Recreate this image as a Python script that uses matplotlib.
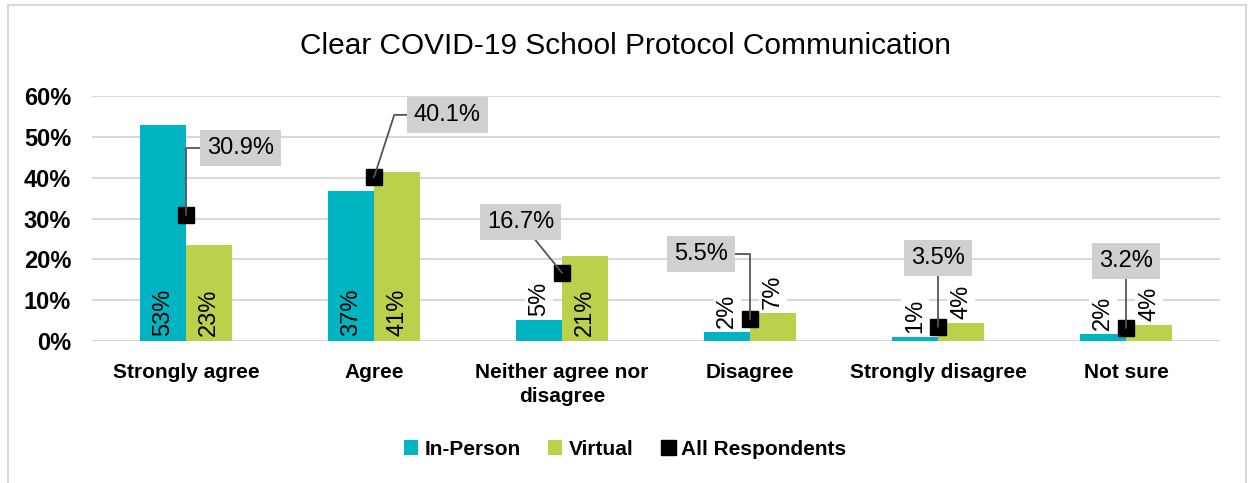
import numpy as np
import matplotlib.pyplot as plt
from matplotlib.patches import Rectangle

plt.rcParams['font.family'] = ['Liberation Sans', 'DejaVu Sans']

categories = ["Strongly agree", "Agree", "Neither agree nor\ndisagree",
              "Disagree", "Strongly disagree", "Not sure"]
in_person = [52.9, 36.8, 5.1, 2.1, 1.0, 1.7]
virtual = [23.4, 41.4, 20.8, 6.8, 4.4, 3.9]
all_resp = [30.9, 40.1, 16.7, 5.5, 3.5, 3.2]

# callout box placement (category offset, height in %) and leader style
callout_pos = [(0.29, 47.3), (1.39, 55.4), (1.78, 29.2),
               (2.74, 21.3), (4.0, 20.3), (5.0, 19.6)]
callout_conn = ["angle,angleA=0,angleB=90,rad=0",
                "angle,angleA=0,angleB=72,rad=0",
                "arc3,rad=0",
                "angle,angleA=0,angleB=90,rad=0",
                "arc3,rad=0",
                "arc3,rad=0"]

teal = "#00B5C1"
green = "#BBD14C"

fig = plt.figure(figsize=(12.5, 4.83), dpi=100)
ax = fig.add_axes([0.0736, 0.294, 0.9024, 0.507])

x = np.arange(len(categories))
w = 0.245
b1 = ax.bar(x - w / 2, in_person, w, color=teal, label="In-Person", zorder=2)
b2 = ax.bar(x + w / 2, virtual, w, color=green, label="Virtual", zorder=2)

# value labels: inside base for tall bars, above the bar for short ones
for bars, vals in ((b1, in_person), (b2, virtual)):
    for rect, v in zip(bars, vals):
        cx = rect.get_x() + rect.get_width() / 2
        txt = f"{round(v):.0f}%"
        if v >= 15:
            ax.text(cx, 1.3, txt, rotation=90, ha="center", va="bottom",
                    fontsize=17, color="black", zorder=4)
        else:
            ax.text(cx, v + 1.0, txt, rotation=90, ha="center", va="bottom",
                    fontsize=17, color="black", zorder=4,
                    bbox=dict(boxstyle="square,pad=0.12", fc="white", ec="none"))

mk, = ax.plot(x, all_resp, ls="none", marker="s", ms=12, color="black",
              label="All Respondents", zorder=5)

for i, v in enumerate(all_resp):
    tx, ty = callout_pos[i]
    ax.annotate(f"{v:.1f}%", xy=(x[i], v), xytext=(tx, ty),
                ha="center", va="center", fontsize=17, zorder=6,
                bbox=dict(boxstyle="square,pad=0.3", fc="#D0D0D0", ec="none"),
                arrowprops=dict(arrowstyle="-", color="#555555", lw=1.3,
                                connectionstyle=callout_conn[i],
                                shrinkA=0, shrinkB=0))

ax.set_ylim(0, 60)
ax.set_xlim(-0.5, len(categories) - 0.5)
ax.set_yticks(range(0, 61, 10))
ax.set_yticklabels([f"{t}%" for t in range(0, 61, 10)],
                   fontsize=17, fontweight="bold")
ax.set_xticks(x)
ax.set_xticklabels(categories, fontsize=15, fontweight="bold", linespacing=1.35)
ax.tick_params(axis="y", length=0, pad=15)
ax.tick_params(axis="x", length=0, pad=16)
ax.grid(axis="y", color="#D9D9D9", lw=1.5, zorder=0)
ax.set_axisbelow(True)
for s in ax.spines.values():
    s.set_visible(False)

fig.text(0.5, 0.905, "Clear COVID-19 School Protocol Communication",
         ha="center", va="center", fontsize=21.5)

fig.legend(handles=[b1, b2, mk], loc="center", bbox_to_anchor=(0.5, 0.07),
           ncol=3, frameon=False, handlelength=0.7, handleheight=0.7,
           handletextpad=0.3, columnspacing=1.3, markerscale=0.9,
           prop={"weight": "bold", "size": 15})

fig.add_artist(Rectangle((0.0065, -0.01), 0.99, 1.0, transform=fig.transFigure,
                         fill=False, ec="#D9D9D9", lw=1.5))

fig.savefig("out.png", dpi=100)
